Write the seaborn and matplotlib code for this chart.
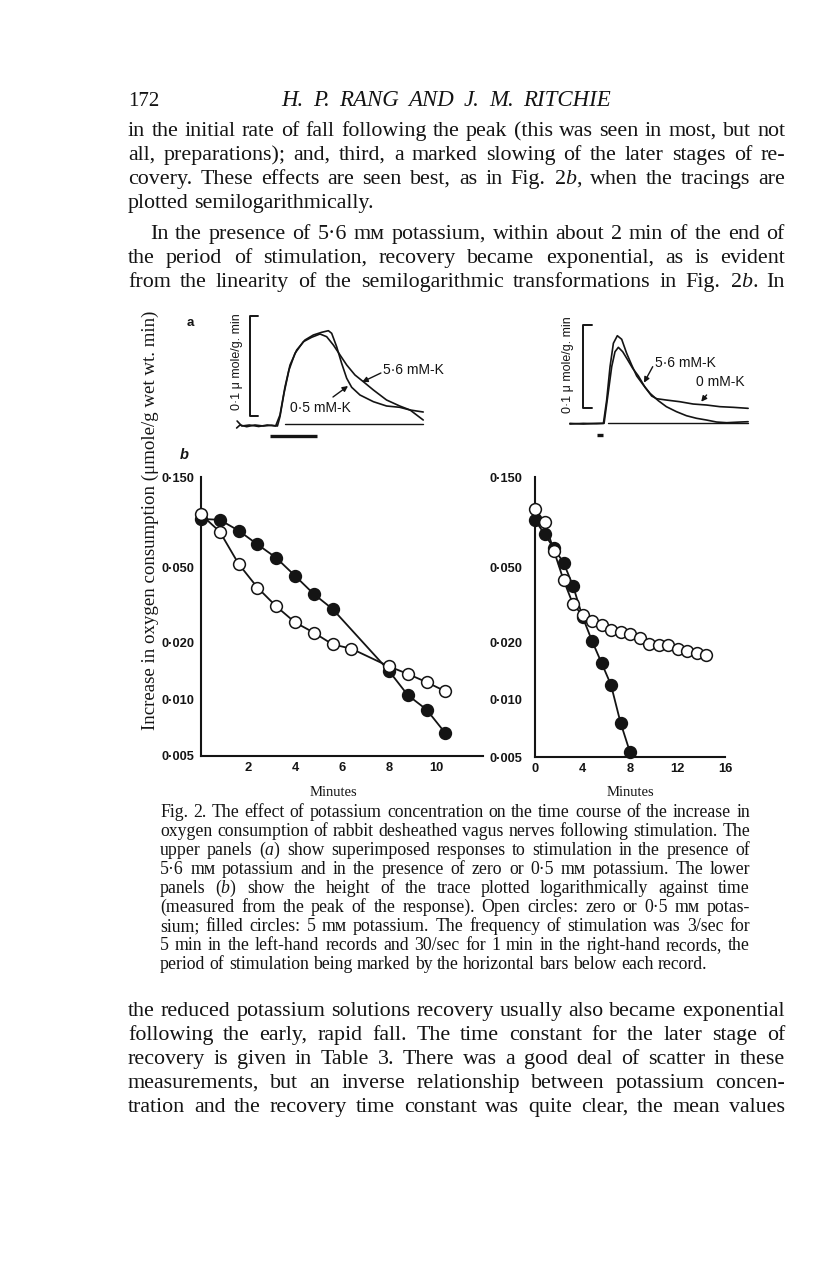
import matplotlib
matplotlib.use("Agg")
import matplotlib.pyplot as plt
from matplotlib.ticker import FixedLocator, FixedFormatter, NullLocator
import seaborn as sns

W, H = 816, 1267

# ---------------- data (panel b, semilog) ----------------
left_filled_min = [0.0, 0.8, 1.6, 2.4, 3.2, 4.0, 4.8, 5.6, 8.0, 8.8, 9.6, 10.4]
left_filled_val = [0.090, 0.089, 0.078, 0.066, 0.056, 0.045, 0.036, 0.030, 0.0141, 0.0105, 0.0088, 0.0066]
left_open_min = [0.0, 0.8, 1.6, 2.4, 3.2, 4.0, 4.8, 5.6, 6.4, 8.0, 8.8, 9.6, 10.4]
left_open_val = [0.095, 0.077, 0.052, 0.039, 0.031, 0.0255, 0.0225, 0.0195, 0.0185, 0.0149, 0.0136, 0.0123, 0.0110]

right_filled_min = [0.0, 0.8, 1.6, 2.4, 3.2, 4.0, 4.8, 5.6, 6.4, 7.2, 8.0]
right_filled_val = [0.089, 0.075, 0.063, 0.053, 0.040, 0.0275, 0.0205, 0.0157, 0.0120, 0.0076, 0.0053]
right_open_min = [0.0, 0.8, 1.6, 2.4, 3.2, 4.0, 4.8, 5.6, 6.4, 7.2, 8.0, 8.8, 9.6, 10.4, 11.2, 12.0, 12.8, 13.6, 14.4]
right_open_val = [0.102, 0.087, 0.061, 0.043, 0.032, 0.028, 0.026, 0.025, 0.0235, 0.0228, 0.0222, 0.0212,
                  0.0197, 0.0196, 0.0196, 0.0186, 0.0182, 0.0177, 0.0173]

left_yticks = [0.150, 0.100, 0.050, 0.020, 0.010, 0.005]
left_ytick_labels = ["0·150", "", "0·050", "0·020", "0·010", "0·005"]
right_yticks = [0.150, 0.050, 0.020, 0.010, 0.005]
right_ytick_labels = ["0·150", "0·050", "0·020", "0·010", "0·005"]
left_xticks = [2, 4, 6, 8, 10, 12]
left_xtick_labels = ["2", "4", "6", "8", "10", ""]
right_xticks = [0, 4, 8, 12, 16]
right_xtick_labels = ["0", "4", "8", "12", "16"]

# ---------------- data (panel a, tracings; min vs umole/g.min) ----------------
la56_t = [-3.55, -3.19, -2.48, -1.60, -0.71, 0.18, 0.79, 1.06, 1.49, 2.02, 2.66, 3.55, 4.43, 5.32,
          6.03, 6.74, 7.45, 8.16, 9.04, 9.93, 11.0, 12.4, 13.8, 14.9, 15.6, 16.3]
la56_y = [-0.004, -0.001, -0.0027, -0.001, -0.002, -0.0013, -0.002, 0.0073, 0.0307, 0.054, 0.0707, 0.0823,
          0.0867, 0.090, 0.0873, 0.079, 0.069, 0.059, 0.049, 0.0423, 0.034, 0.024, 0.018, 0.014, 0.009, 0.004]
la05_t = [-3.5, -3.0, -2.2, -1.2, -0.3, 0.6, 1.06, 1.60, 2.13, 2.84, 3.72, 4.61, 5.50, 6.21, 6.56, 7.09,
          7.62, 8.16, 8.69, 9.57, 11.0, 12.4, 13.8, 14.9, 16.3]
la05_y = [0.003, -0.002, -0.001, -0.0025, -0.001, -0.002, 0.009, 0.0373, 0.059, 0.074, 0.084, 0.089, 0.0917,
          0.0933, 0.0907, 0.0773, 0.0607, 0.0457, 0.0367, 0.029, 0.0223, 0.018, 0.0167, 0.014, 0.012]
ra56_t = [-4.0, -2.0, 0.0, 1.0, 1.49, 1.99, 2.49, 3.08, 3.73, 4.47, 5.22, 5.97, 6.96, 7.96, 9.2, 10.4, 11.9,
          13.4, 14.9, 16.4, 17.9, 19.4, 21.4, 22.6]
ra56_y = [-0.0016, -0.0008, -0.0012, -0.0008, 0.0273, 0.0675, 0.0957, 0.1048, 0.1005, 0.0836, 0.0695, 0.0563,
          0.0454, 0.0354, 0.0265, 0.0193, 0.0133, 0.0084, 0.0053, 0.0032, 0.0008, 0.0, 0.0008, 0.0012]
ra0_t = [-4.0, -2.0, 0.0, 1.1, 1.64, 2.24, 2.73, 3.23, 3.88, 4.57, 5.37, 6.22, 7.21, 8.21, 8.95, 10.4, 12.4,
         14.4, 16.4, 18.4, 20.4, 22.6]
ra0_y = [-0.0008, -0.0016, -0.0008, -0.0008, 0.0313, 0.0675, 0.0855, 0.0908, 0.0855, 0.0764, 0.0655, 0.0563,
         0.0427, 0.0321, 0.0289, 0.0273, 0.0253, 0.0225, 0.0213, 0.0193, 0.0185, 0.0173]
left_stim = (0.0, 5.0)   # 5 min stimulation
right_stim = (0.0, 1.0)  # 1 min stimulation
scale_bar = 0.1          # umole/g.min

# ---------------- text ----------------
header_num = "172"
header_title = "H. P. RANG AND J. M. RITCHIE"
para1 = ["in the initial rate of fall following the peak (this was seen in most, but not",
         "all, preparations); and, third, a marked slowing of the later stages of re-",
         r"covery. These effects are seen best, as in Fig. 2$b$, when the tracings are",
         "plotted semilogarithmically."]
para2 = ["In the presence of 5·6 mᴍ potassium, within about 2 min of the end of",
         "the period of stimulation, recovery became exponential, as is evident",
         r"from the linearity of the semilogarithmic transformations in Fig. 2$b$. In"]
caption = ["Fig. 2. The effect of potassium concentration on the time course of the increase in",
           "oxygen consumption of rabbit desheathed vagus nerves following stimulation. The",
           r"upper panels ($a$) show superimposed responses to stimulation in the presence of",
           "5·6 mᴍ potassium and in the presence of zero or 0·5 mᴍ potassium. The lower",
           r"panels ($b$) show the height of the trace plotted logarithmically against time",
           "(measured from the peak of the response). Open circles: zero or 0·5 mᴍ potas-",
           "sium; filled circles: 5 mᴍ potassium. The frequency of stimulation was 3/sec for",
           "5 min in the left-hand records and 30/sec for 1 min in the right-hand records, the",
           "period of stimulation being marked by the horizontal bars below each record."]
para3 = ["the reduced potassium solutions recovery usually also became exponential",
         "following the early, rapid fall. The time constant for the later stage of",
         "recovery is given in Table 3. There was a good deal of scatter in these",
         "measurements, but an inverse relationship between potassium concen-",
         "tration and the recovery time constant was quite clear, the mean values"]
ylabel_text = "Increase in oxygen consumption (μmole/g wet wt. min)"

# ---------------- style ----------------
sns.set_style("white")
SERIF = ["Liberation Serif", "DejaVu Serif", "DejaVu Sans"]
SANS = ["Liberation Sans", "DejaVu Sans"]
plt.rcParams["font.family"] = SERIF
plt.rcParams["mathtext.fontset"] = "custom"
plt.rcParams["mathtext.rm"] = "Liberation Serif"
plt.rcParams["mathtext.it"] = "Liberation Serif:italic"
INK = "#141414"

fig = plt.figure(figsize=(W / 100, H / 100), dpi=100)
fig.patch.set_facecolor("white")
renderer = fig.canvas.get_renderer()


def put(x, y, s, **kw):
    return fig.text(x / W, 1 - y / H, s, color=kw.pop("color", INK), **kw)


def width_of(s, size, **kw):
    t = put(0, 0, s, fontsize=size, **kw)
    w = t.get_window_extent(renderer).width
    t.remove()
    return w


def fit_size(lines, spans, just_flags, **kw):
    ratios = [(x1 - x0) / width_of(s, 10, **kw) for s, (x0, x1), j in zip(lines, spans, just_flags) if j]
    return 10 * min(ratios) * 0.995


def text_line(s, x0, x1, y, size, just=True, **kw):
    words = s.split(" ")
    ts = [put(0, y, w, fontsize=size, va="baseline", ha="left", **kw) for w in words]
    ws = [t.get_window_extent(renderer).width for t in ts]
    if just and len(words) > 1:
        gap = (x1 - x0 - sum(ws)) / (len(words) - 1)
    else:
        gap = 0.25 * size * 100 / 72
    x = x0
    for t, w in zip(ts, ws):
        t.set_x(x / W)
        x += w + gap


def add_ax_px(x0, y0, x1, y1):
    return fig.add_axes([x0 / W, 1 - y1 / H, (x1 - x0) / W, (y1 - y0) / H])


# header and body text
put(128, 106, header_num, fontsize=15, va="baseline", ha="left")
TITLE = 10 * 330 / width_of(header_title, 10, style="italic")
text_line(header_title, 281, 611, 106, TITLE * 0.93, style="italic")

body_lines = para1 + para2 + para3
body_spans = ([(128, 785)] * len(para1) + [(150, 785)] + [(128, 785)] * (len(para2) - 1)
              + [(128, 785)] * len(para3))
body_just = [True] * (len(para1) - 1) + [False] + [True] * (len(para2) + len(para3))
BODY = fit_size(body_lines, body_spans, body_just)
cap_spans = [(160, 750)] * len(caption)
cap_just = [True] * (len(caption) - 1) + [False]
CAP = fit_size(caption, cap_spans, cap_just)

for i, s in enumerate(para1):
    text_line(s, 128, 785, 136 + 24 * i, BODY, just=(i < len(para1) - 1))
for i, s in enumerate(para2):
    text_line(s, 150 if i == 0 else 128, 785, 239 + 24 * i, BODY)
for i, s in enumerate(caption):
    text_line(s, 160, 750, 817 + 19 * i, CAP, just=(i < len(caption) - 1))
for i, s in enumerate(para3):
    text_line(s, 128, 785, 1016 + 24 * i, BODY)

# main y label, fitted to its length on the page
yl = put(150, 520, ylabel_text, fontsize=10, rotation=90, ha="center", va="center")
ext = yl.get_window_extent(renderer).height
yl.set_fontsize(10 * 418 / ext)

# ---------------- panel b ----------------
LW = 1.3
MS = 72


def semilog(ax, fmin, fval, omin, oval):
    sns.lineplot(x=omin, y=oval, ax=ax, color=INK, lw=LW, sort=False, estimator=None, zorder=2)
    sns.lineplot(x=fmin, y=fval, ax=ax, color=INK, lw=LW, sort=False, estimator=None, zorder=2)
    sns.scatterplot(x=fmin, y=fval, ax=ax, s=MS, color=INK, edgecolor=INK, linewidth=1.1, zorder=4,
                    clip_on=False)
    sns.scatterplot(x=omin, y=oval, ax=ax, s=MS, color="white", edgecolor=INK, linewidth=1.1, zorder=5,
                    clip_on=False)
    ax.set_yscale("log")
    ax.set_ylim(0.005, 0.150)
    ax.yaxis.set_minor_locator(NullLocator())
    ax.xaxis.set_minor_locator(NullLocator())
    for sp in ("top", "right"):
        ax.spines[sp].set_visible(False)
    for sp in ("left", "bottom"):
        ax.spines[sp].set_linewidth(1.5)
        ax.spines[sp].set_color(INK)
    ax.set_facecolor("none")
    ax.set_xlabel("")
    ax.set_ylabel("")


axL = add_ax_px(201, 477, 483, 756)
semilog(axL, left_filled_min, left_filled_val, left_open_min, left_open_val)
axL.set_xlim(0, 12)
axL.yaxis.set_major_locator(FixedLocator(left_yticks))
axL.yaxis.set_major_formatter(FixedFormatter(left_ytick_labels))
axL.xaxis.set_major_locator(FixedLocator(left_xticks))
axL.xaxis.set_major_formatter(FixedFormatter(left_xtick_labels))
axL.tick_params(axis="y", direction="in", length=7, width=1.4, pad=5, colors=INK)
axL.tick_params(axis="x", direction="in", length=8, width=1.4, pad=4, colors=INK)

axR = add_ax_px(535, 477, 725, 757)
semilog(axR, right_filled_min, right_filled_val, right_open_min, right_open_val)
axR.set_xlim(0, 16)
axR.yaxis.set_major_locator(FixedLocator(right_yticks))
axR.yaxis.set_major_formatter(FixedFormatter(right_ytick_labels))
axR.xaxis.set_major_locator(FixedLocator(right_xticks))
axR.xaxis.set_major_formatter(FixedFormatter(right_xtick_labels))
axR.tick_params(axis="y", direction="out", length=8, width=1.4, pad=1, colors=INK)
axR.tick_params(axis="x", direction="in", length=8, width=1.4, pad=4, colors=INK)

for ax in (axL, axR):
    for lab in ax.get_xticklabels() + ax.get_yticklabels():
        lab.set_family(SANS)
        lab.set_fontweight("bold")
        lab.set_fontsize(9.3)

put(333, 792, "Minutes", fontsize=10.5, ha="center", va="center")
put(630, 792, "Minutes", fontsize=10.5, ha="center", va="center")
put(190, 323, "a", fontsize=9.5, fontweight="bold", family=SANS, ha="center", va="center")
put(184, 455, "b", fontsize=10.5, fontweight="bold", style="italic", family=SANS, ha="center", va="center")

# ---------------- panel a (tracings) ----------------
TLW = 1.2


def tracing(ax, t1, y1, t2, y2, base_from, base_to, stim, stim_y, bar_t, bar_y0, serif):
    sns.lineplot(x=t1, y=y1, ax=ax, color=INK, lw=TLW, sort=False, estimator=None)
    sns.lineplot(x=t2, y=y2, ax=ax, color=INK, lw=TLW, sort=False, estimator=None)
    ax.plot([base_from, base_to], [0, 0], color=INK, lw=1.0)
    ax.plot(list(stim), [stim_y] * 2, color=INK, lw=2.4, solid_capstyle="butt")
    ax.plot([bar_t + serif, bar_t, bar_t, bar_t + serif],
            [bar_y0, bar_y0, bar_y0 + scale_bar, bar_y0 + scale_bar], color=INK, lw=1.4)
    ax.axis("off")


arrow = dict(arrowstyle="-|>", color=INK, lw=1.0, mutation_scale=8, shrinkA=0, shrinkB=0)
LAB = 10

axLa = add_ax_px(232.4, 294, 429.8, 444)
tracing(axLa, la56_t, la56_y, la05_t, la05_y, 1.6, 16.3, left_stim, -0.012, -2.13, 0.008, 0.85)
axLa.set_xlim(-4, 17)
axLa.set_ylim(-0.02, 0.13)
axLa.text(12.0, 0.054, "5·6 mM-K", fontsize=LAB, family=SANS, ha="left", va="center", color=INK)
axLa.text(2.1, 0.016, "0·5 mM-K", fontsize=LAB, family=SANS, ha="left", va="center", color=INK)
axLa.annotate("", xy=(9.8, 0.042), xytext=(11.8, 0.051), arrowprops=arrow)
axLa.annotate("", xy=(8.3, 0.038), xytext=(6.7, 0.027), arrowprops=arrow)

axRa = add_ax_px(563.2, 306.5, 757.5, 447.6)
tracing(axRa, ra56_t, ra56_y, ra0_t, ra0_y, 1.7, 22.6, right_stim, -0.0148, -2.0, 0.0173, 1.25)
axRa.set_xlim(-5, 24)
axRa.set_ylim(-0.03, 0.14)
axRa.text(8.7, 0.0716, "5·6 mM-K", fontsize=LAB, family=SANS, ha="left", va="center", color=INK)
axRa.text(14.8, 0.0494, "0 mM-K", fontsize=LAB, family=SANS, ha="left", va="center", color=INK)
axRa.annotate("", xy=(7.06, 0.0482), xytext=(8.36, 0.0675), arrowprops=arrow)
axRa.annotate("", xy=(15.6, 0.0253), xytext=(16.4, 0.0334), arrowprops=arrow)

put(237, 362, "0·1 μ mole/g. min", fontsize=9, family=SANS, rotation=90, ha="center", va="center")
put(568, 365, "0·1 μ mole/g. min", fontsize=9, family=SANS, rotation=90, ha="center", va="center")

fig.savefig("out.png", dpi=100, facecolor="white")
